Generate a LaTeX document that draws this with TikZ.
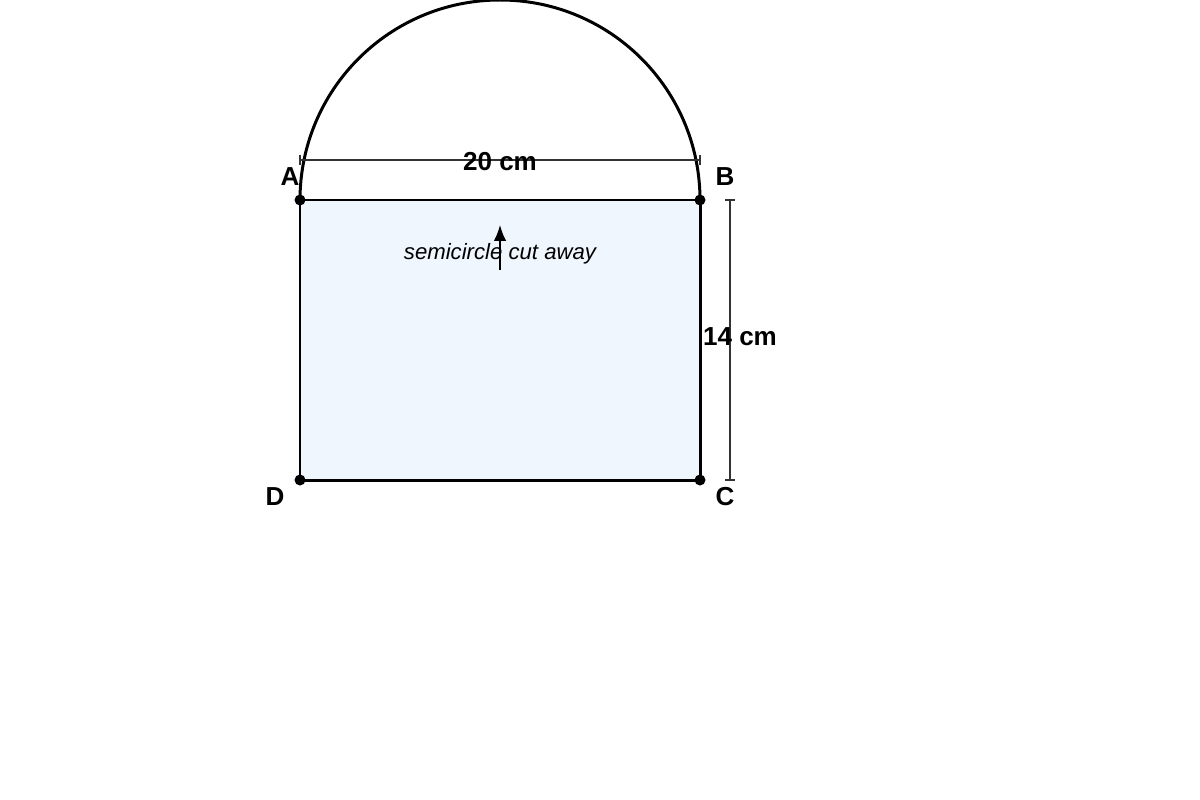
\documentclass[tikz,border=0pt]{standalone}
\usepackage{fontspec}
\setmainfont{Liberation Sans}
\usetikzlibrary{arrows.meta}
\definecolor{fillblue}{HTML}{EFF6FD}
\definecolor{dimgray}{HTML}{333333}
\begin{document}
\begin{tikzpicture}[x=0.01cm,y=-0.01cm,
  shape edge/.style={line width=0.85pt,black},
  dimline/.style={line width=0.45pt,dimgray},
  vertexdot/.style={circle,fill=black,inner sep=0pt,minimum size=0.11cm},
  ptlabel/.style={font=\fontsize{7.4pt}{8pt}\selectfont\bfseries},
  dimlabel/.style={font=\fontsize{7.4pt}{8pt}\selectfont\bfseries,inner sep=0pt},
  notelabel/.style={font=\fontsize{6.3pt}{7pt}\selectfont\itshape,inner sep=0pt}]
\useasboundingbox (0,0) rectangle (1200,800);
% corners
\coordinate (A) at (300,200);
\coordinate (B) at (700,200);
\coordinate (C) at (700,480);
\coordinate (D) at (300,480);
% rectangle
\fill[fillblue] (A) rectangle (C);
\draw[shape edge] (A) -- (D) -- (C) -- (B) -- cycle;
% semicircle
\draw[shape edge] (A) arc[start angle=180,end angle=360,radius=200];
% horizontal dimension
\coordinate (h1) at (300,160);
\coordinate (h2) at (700,160);
\draw[dimline] (h1) -- (h2);
\draw[dimline] (h1) ++(0,-5) -- ++(0,10);
\draw[dimline] (h2) ++(0,-5) -- ++(0,10);
\node[dimlabel] (w) at (500,162) {20 cm};
% vertical dimension
\coordinate (v1) at (730,200);
\coordinate (v2) at (730,480);
\draw[dimline] (v1) -- (v2);
\draw[dimline] (v1) ++(-5,0) -- ++(10,0);
\draw[dimline] (v2) ++(-5,0) -- ++(10,0);
\node[dimlabel] (hgt) at (740,337) {14 cm};
% note
\node[notelabel] (note) at (500,254) {semicircle cut away};
\coordinate (ar1) at (500,270);
\coordinate (ar2) at (500,225);
\draw[line width=0.4pt,-{Latex[length=4.5pt,width=3.5pt]}] (ar1) -- (ar2);
% dots
\node[vertexdot] (dA) at (A) {};
\node[vertexdot] (dB) at (B) {};
\node[vertexdot] (dC) at (C) {};
\node[vertexdot] (dD) at (D) {};
% labels
\node[ptlabel] (lA) at (290,177) {A};
\node[ptlabel] (lB) at (725,177) {B};
\node[ptlabel] (lC) at (725,497) {C};
\node[ptlabel] (lD) at (275,497) {D};
\end{tikzpicture}
\end{document}
